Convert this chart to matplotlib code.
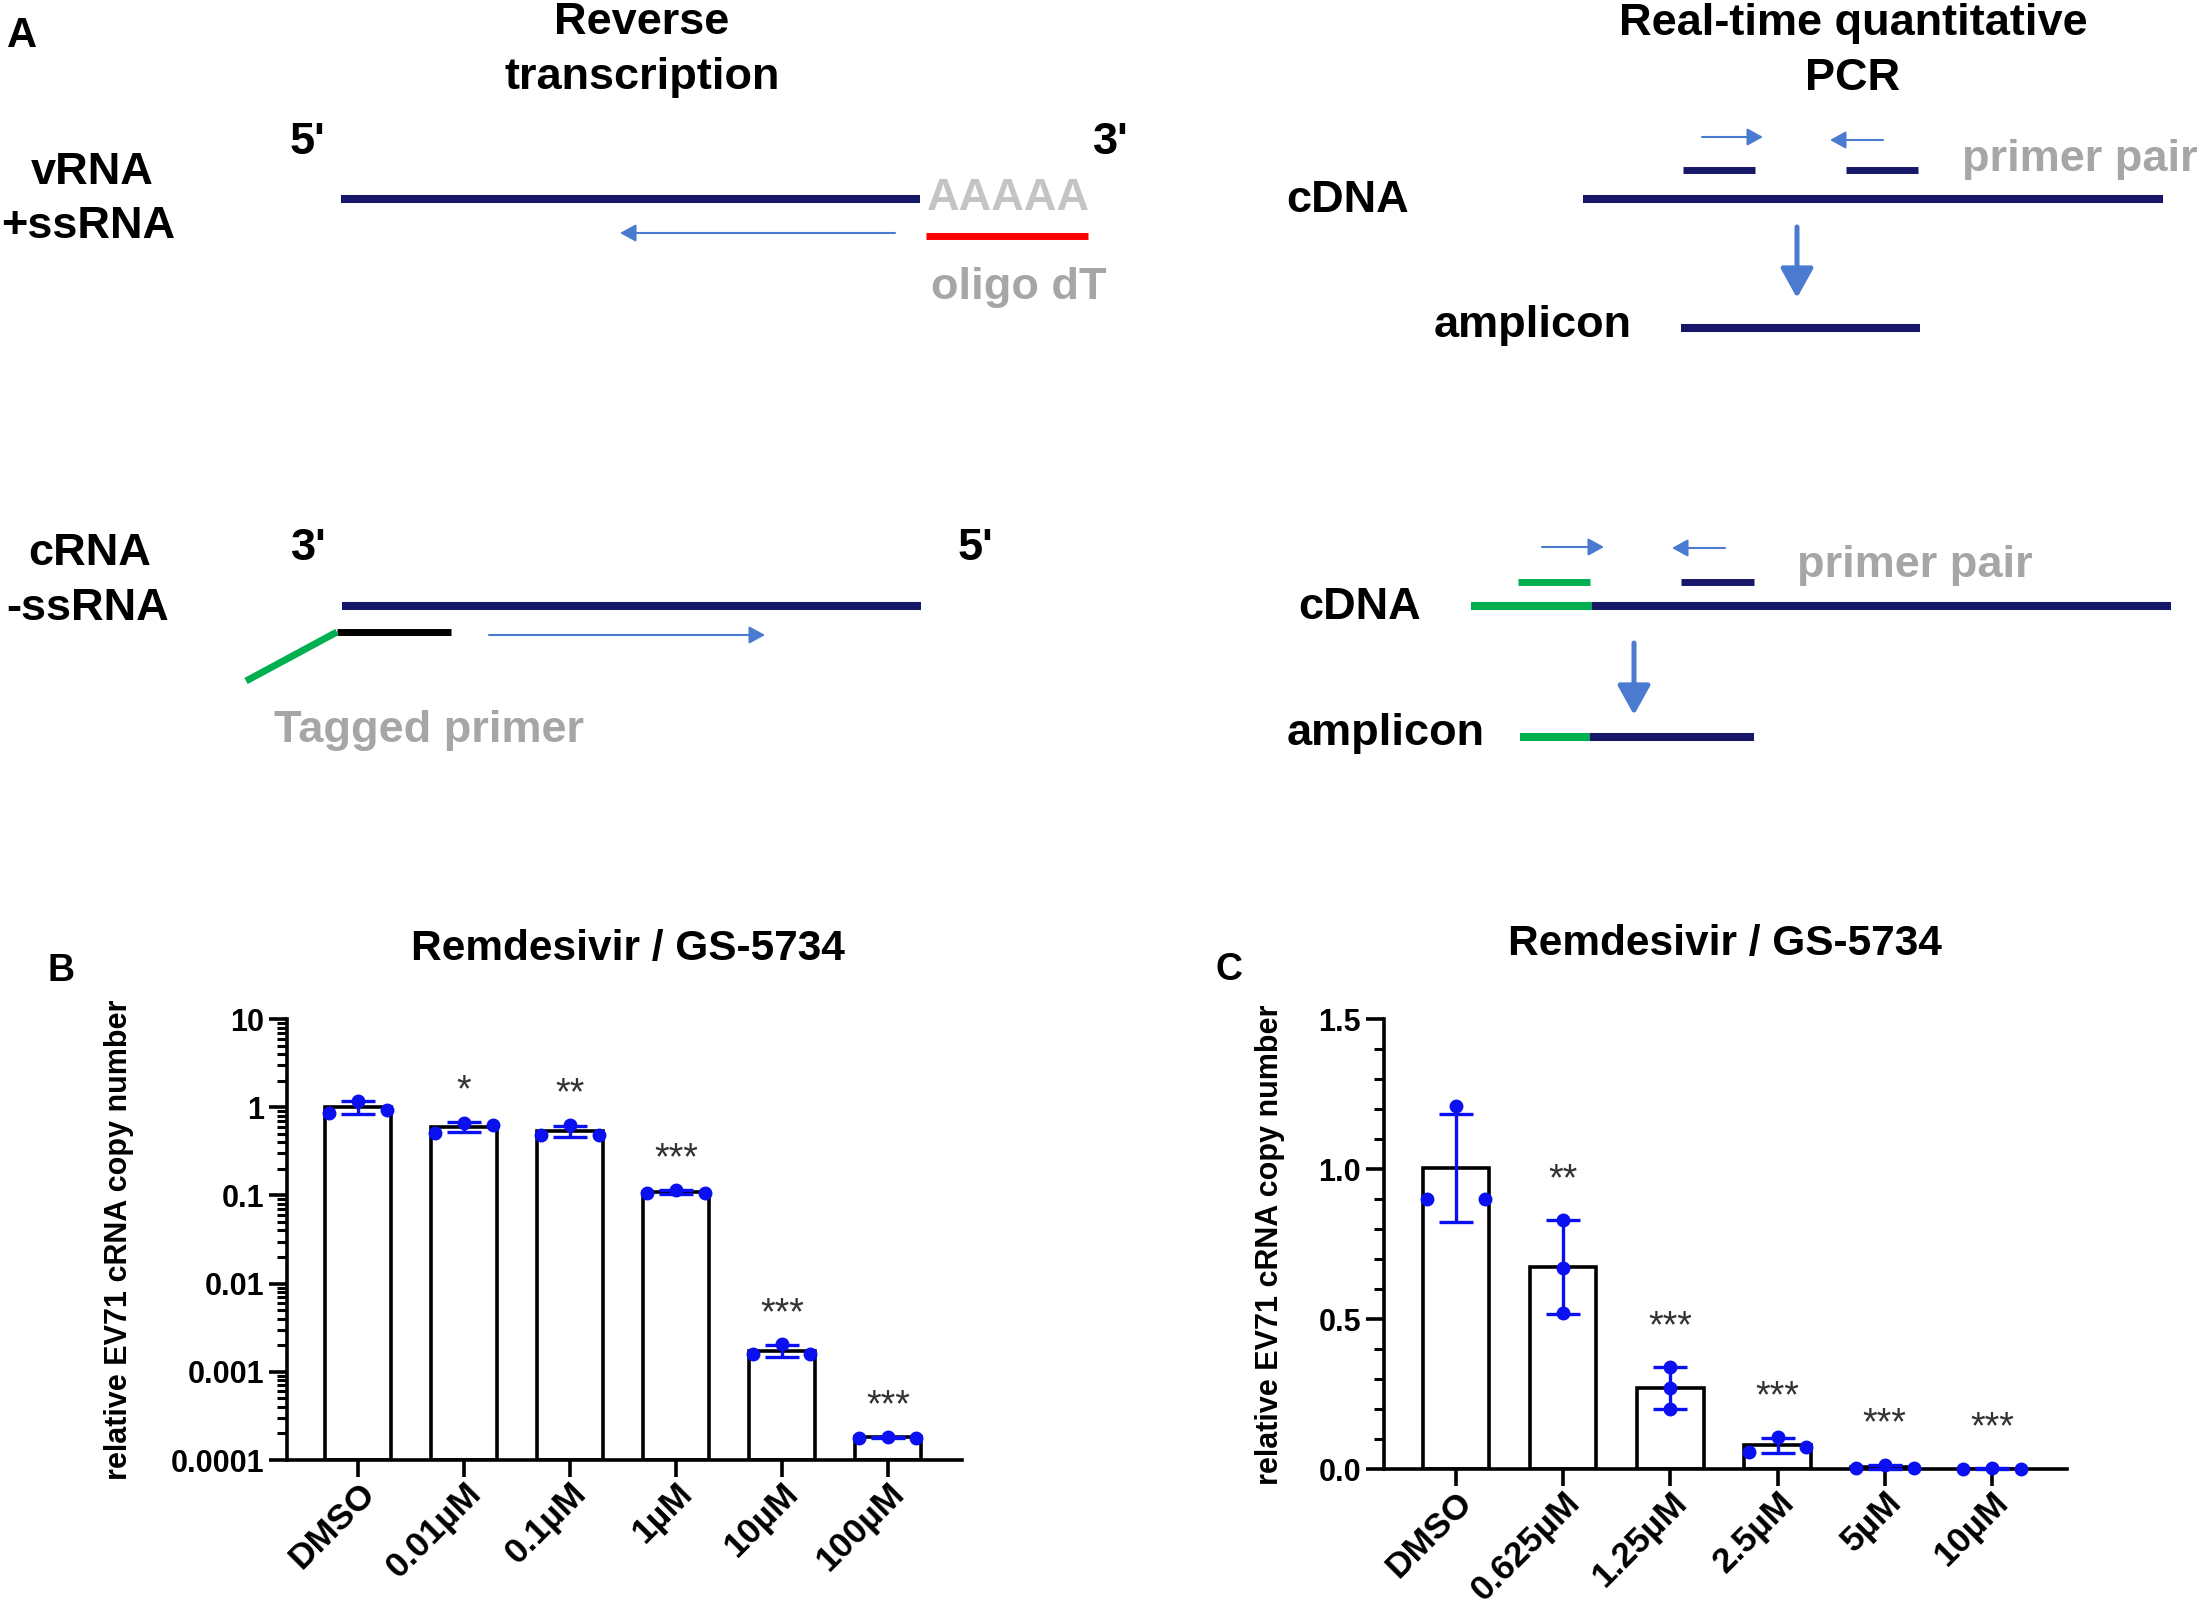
import numpy as np
import matplotlib.pyplot as plt
import matplotlib.ticker as ticker

plt.rcParams['font.family'] = ['Liberation Sans', 'DejaVu Sans']
plt.rcParams['font.weight'] = 'bold'

NAVY = '#17176a'
ARROW = '#4a7bd0'
GREEN = '#00b050'
GRAY = '#a6a6a6'
DOT = '#0a10f0'

# panel B: relative EV71 cRNA copy number (log scale), three replicates each
doses_b = ['DMSO', '0.01µM', '0.1µM', '1µM', '10µM', '100µM']
reps_b = [[0.87, 1.19, 0.94],
          [0.51, 0.67, 0.63],
          [0.49, 0.63, 0.49],
          [0.106, 0.116, 0.106],
          [0.00158, 0.00204, 0.00158],
          [0.000178, 0.000184, 0.000178]]
stars_b = ['', '*', '**', '***', '***', '***']
spread_b = [1, 1, 1, 1, 1, 1]

# panel C: linear scale
doses_c = ['DMSO', '0.625µM', '1.25µM', '2.5µM', '5µM', '10µM']
reps_c = [[0.90, 1.21, 0.90],
          [0.83, 0.67, 0.52],
          [0.34, 0.27, 0.20],
          [0.058, 0.106, 0.073],
          [0.004, 0.015, 0.004],
          [0.001, 0.002, 0.001]]
stars_c = ['', '**', '***', '***', '***', '***']
spread_c = [1, 0, 0, 1, 1, 1]

W, H = 2203, 1610
fig = plt.figure(figsize=(W / 100, H / 100), dpi=100)

# ---------- panel A schematic, drawn in pixel coords ----------
dg = fig.add_axes([0, 0, 1, 1])
dg.set_xlim(0, W)
dg.set_ylim(H, 0)
dg.axis('off')


def seg(x0, x1, y, color, lw=5.8):
    dg.plot([x0, x1], [y, y], color=color, lw=lw, solid_capstyle='butt')


def arrow(x0, y0, x1, y1, lw=1.5, style='-|>,head_length=0.4,head_width=0.22', ms=24):
    dg.annotate('', xy=(x1, y1), xytext=(x0, y0),
                arrowprops=dict(arrowstyle=style, lw=lw, color=ARROW,
                                mutation_scale=ms, shrinkA=0, shrinkB=0))


def label(x, y, s, size=32.5, color='black'):
    dg.text(x, y, s, ha='center', va='center', fontsize=size, color=color, fontweight='bold')


dg.text(7, 36, 'A', fontsize=30, fontweight='bold', va='center')
label(642, 23, 'Reverse')
label(642, 78, 'transcription')
label(1853, 23, 'Real-time quantitative')
label(1853, 78, 'PCR')

# vRNA / +ssRNA
label(92, 173, 'vRNA')
label(88, 227, '+ssRNA')
label(307, 142, "5'")
label(1111, 142, "3'")
seg(341, 920, 199, NAVY)
label(1008, 199, 'AAAAA', color='#c4c4c4')
seg(926, 1088, 236, '#ff0000', lw=5)
arrow(895, 233, 620, 233)
label(1019, 287, 'oligo dT', color=GRAY)

# cRNA / -ssRNA
label(90, 553, 'cRNA')
label(88, 608, '-ssRNA')
label(309, 548, "3'")
label(975, 548, "5'")
seg(342, 921, 606, NAVY)
seg(337, 451, 632, 'black', lw=5)
dg.plot([337, 246], [632, 681], color=GREEN, lw=5, solid_capstyle='butt')
arrow(489, 635, 765, 635)
label(429, 730, 'Tagged primer', color=GRAY)

# qPCR on vRNA cDNA
arrow(1702, 137, 1763, 137)
arrow(1883, 140, 1830, 140)
seg(1683, 1755, 170, NAVY, lw=5)
seg(1846, 1918, 170, NAVY, lw=5)
label(2080, 159, 'primer pair', color=GRAY)
label(1348, 200, 'cDNA')
seg(1583, 2163, 199, NAVY)
arrow(1797, 227, 1797, 298, lw=3.6, style='-|>,head_length=0.9,head_width=0.5', ms=20)
label(1533, 325, 'amplicon')
seg(1681, 1920, 328, NAVY)

# qPCR on tagged cDNA
arrow(1542, 547, 1604, 547)
arrow(1725, 548, 1672, 548)
seg(1518, 1590, 582, GREEN, lw=5)
seg(1681, 1754, 582, NAVY, lw=5)
label(1915, 565, 'primer pair', color=GRAY)
label(1360, 607, 'cDNA')
seg(1471, 1592, 606, GREEN)
seg(1592, 2171, 606, NAVY)
arrow(1634, 643, 1634, 715, lw=3.6, style='-|>,head_length=0.9,head_width=0.5', ms=20)
label(1386, 733, 'amplicon')
seg(1520, 1590, 737, GREEN)
seg(1590, 1754, 737, NAVY)


# ---------- panels B and C ----------
def barPanel(ax, doses, reps, stars, spread, log):
    x = np.arange(len(doses))
    vals = [np.array(r) for r in reps]
    means = np.array([v.mean() for v in vals])
    sds = np.array([v.std(ddof=1) for v in vals])
    base = 1e-4 if log else 0
    ax.bar(x, means - base, bottom=base, width=0.62, color='white',
           edgecolor='black', linewidth=2.6, zorder=2)
    ax.errorbar(x, means, yerr=sds, fmt='none', ecolor=DOT, elinewidth=2.4,
                capsize=12, capthick=2.4, zorder=3, clip_on=False)
    for i, v in enumerate(vals):
        off = np.array([-0.27, 0, 0.27]) * spread[i]
        ax.plot(x[i] + off, v, 'o', color=DOT, ms=9, zorder=4, clip_on=False)
        top = max(means[i] + sds[i], v.max())
        if stars[i]:
            ys = top * 1.7 if log else top + 0.1
            ax.text(x[i], ys, stars[i], ha='center', va='baseline',
                    fontsize=27, fontweight='normal', color='#333333')
    if log:
        ax.set_yscale('log')
    ax.set_xlim(-0.67, 5.7)
    ax.set_xticks(x)
    ax.set_xticklabels(doses, rotation=45, ha='right', va='top',
                       rotation_mode='anchor', fontsize=25.5, fontweight='bold')
    for s in ['top', 'right']:
        ax.spines[s].set_visible(False)
    for s in ['left', 'bottom']:
        ax.spines[s].set_linewidth(2.6)
    ax.tick_params(axis='y', which='major', length=13, width=2.6, labelsize=22)
    ax.tick_params(axis='y', which='minor', length=7, width=2.2)
    ax.tick_params(axis='x', length=12, width=2.6, pad=0)


axB = fig.add_axes([287 / W, 1 - 1460 / H, (962 - 287) / W, (1460 - 1019) / H])
barPanel(axB, doses_b, reps_b, stars_b, spread_b, True)
axB.set_ylim(1e-4, 10)
axB.yaxis.set_major_locator(ticker.FixedLocator([1e-4, 1e-3, 1e-2, 1e-1, 1, 10]))
axB.yaxis.set_major_formatter(ticker.FixedFormatter(['0.0001', '0.001', '0.01', '0.1', '1', '10']))
axB.yaxis.set_minor_locator(ticker.LogLocator(base=10, subs=np.arange(2, 10), numticks=20))
axB.yaxis.set_minor_formatter(ticker.NullFormatter())
for t in axB.get_yticklabels():
    t.set_fontweight('bold')
    t.set_fontsize(22)

axC = fig.add_axes([1384 / W, 1 - 1469 / H, (2067 - 1384) / W, (1469 - 1019) / H])
barPanel(axC, doses_c, reps_c, stars_c, spread_c, False)
axC.set_ylim(0, 1.5)
axC.yaxis.set_major_locator(ticker.MultipleLocator(0.5))
axC.yaxis.set_major_formatter(ticker.FormatStrFormatter('%.1f'))
axC.yaxis.set_minor_locator(ticker.MultipleLocator(0.1))
for t in axC.get_yticklabels():
    t.set_fontweight('bold')
    t.set_fontsize(22)

fig.text(61 / W, 1 - 971 / H, 'B', fontsize=27, fontweight='bold', ha='center', va='center')
fig.text(1229 / W, 1 - 970 / H, 'C', fontsize=27, fontweight='bold', ha='center', va='center')
fig.text(628 / W, 1 - 949 / H, 'Remdesivir / GS-5734', fontsize=30.5, fontweight='bold', ha='center', va='center')
fig.text(1725 / W, 1 - 944 / H, 'Remdesivir / GS-5734', fontsize=30.5, fontweight='bold', ha='center', va='center')
fig.text(119 / W, 1 - 1240 / H, 'relative EV71 cRNA copy number', fontsize=22, fontweight='bold',
         rotation=90, ha='center', va='center')
fig.text(1270 / W, 1 - 1245 / H, 'relative EV71 cRNA copy number', fontsize=22, fontweight='bold',
         rotation=90, ha='center', va='center')

fig.savefig('out.png', dpi=100)
